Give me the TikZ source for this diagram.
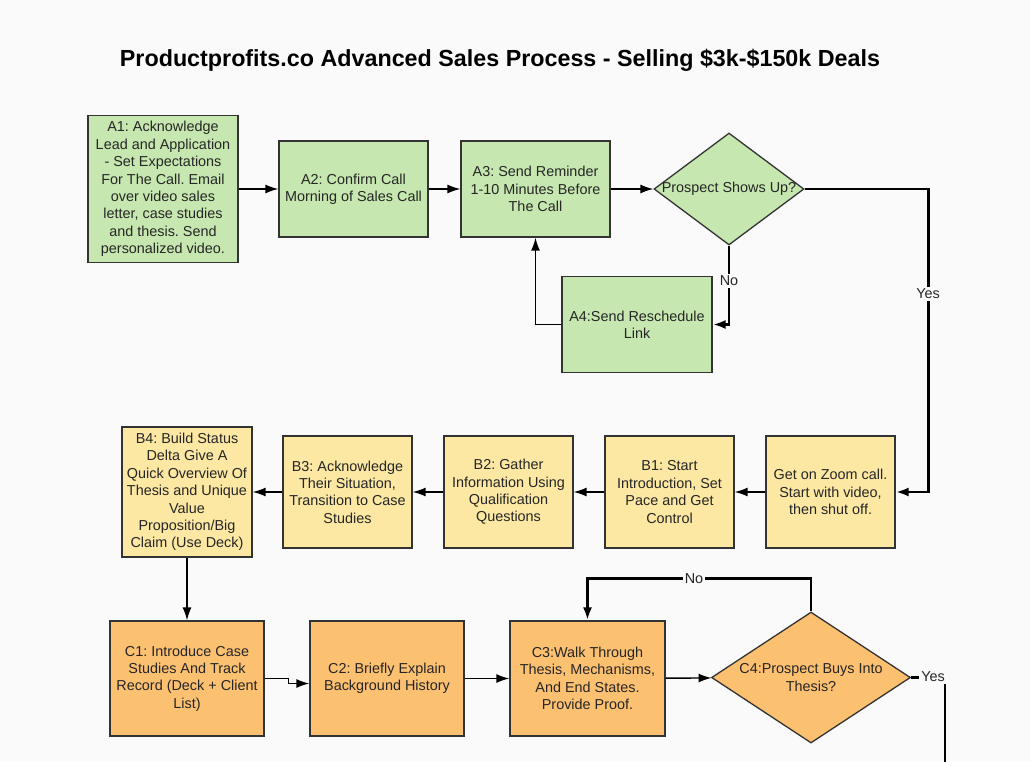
\documentclass[tikz,border=0pt]{standalone}
\usepackage{fontspec}
\setmainfont{Liberation Sans}
\usepackage{xcolor}
\usetikzlibrary{
    shapes.geometric,
    arrows.meta,
    positioning
}
\frenchspacing
\definecolor{pagebg}{HTML}{FAFAFA}
\definecolor{ink}{HTML}{333333}
\definecolor{gfill}{HTML}{C6E7AF}
\definecolor{yfill}{HTML}{FCE7A3}
\definecolor{ofill}{HTML}{FCC071}
\newcommand{\boxfont}{\fontsize{14.4}{17.4}\selectfont}
\tikzset{base/.style={draw=ink, line width=1.3pt, inner sep=0pt, align=center, text=black!85, font=\boxfont}}
\tikzset{gbox/.style={base, rectangle, fill=gfill}}
\tikzset{ybox/.style={base, rectangle, fill=yfill}}
\tikzset{obox/.style={base, rectangle, fill=ofill}}
\tikzset{gdec/.style={base, diamond, fill=gfill}}
\tikzset{odec/.style={base, diamond, fill=ofill}}
\tikzset{dtext/.style={align=center, text=black!85, font=\boxfont}}
\tikzset{conn/.style={draw=black, line width=1.4pt, -{Latex[length=13pt,width=9pt]}}}
\tikzset{bconn/.style={conn, line width=2.8pt}}
\tikzset{lbl/.style={fill=pagebg, inner sep=2pt, text=black!85, font=\boxfont}}

\begin{document}
\begin{tikzpicture}[x=1pt, y=-1pt]
                        \fill[pagebg] (0, 0) rectangle (1030, 761);
                        \useasboundingbox (0, 0) rectangle (1030, 761);

                        \node[font=\bfseries\fontsize{23.3}{27}\selectfont] (title) at (500, 60)
                            {Productprofits.co Advanced Sales Process - Selling \$3k-\$150k Deals};

                        \node[gbox, minimum width=150, minimum height=147] (a1) at (163, 189)
                            {A1: Acknowledge\\Lead and Application\\- Set Expectations\\For The Call. Email\\over video sales\\letter, case studies\\and thesis. Send\\personalized video.};
                        \node[gbox, minimum width=149, minimum height=96] (a2) at (353.5, 189)
                            {A2: Confirm Call\\Morning of Sales Call};
                        \node[gbox, minimum width=149, minimum height=96] (a3) at (535.5, 189)
                            {A3: Send Reminder\\1-10 Minutes Before\\The Call};
                        \node[gdec, minimum width=150, minimum height=112,
                            label={[dtext]center:Prospect Shows Up?}] (d1) at (729, 189) {};
                        \node[gbox, minimum width=150, minimum height=96] (a4) at (637, 324.5)
                            {A4:Send Reschedule\\Link};

                        \node[ybox, minimum width=129, minimum height=112] (zoom) at (830.5, 492)
                            {Get on Zoom call.\\Start with video,\\then shut off.};
                        \node[ybox, minimum width=129, minimum height=112] (b1) at (669.5, 492)
                            {B1: Start\\Introduction, Set\\Pace and Get\\Control};
                        \node[ybox, minimum width=129, minimum height=112] (b2) at (508.5, 492)
                            {B2: Gather\\Information Using\\Qualification\\Questions};
                        \node[ybox, minimum width=129, minimum height=112] (b3) at (347.5, 492)
                            {B3: Acknowledge\\Their Situation,\\Transition to Case\\Studies};
                        \node[ybox, minimum width=130, minimum height=130] (b4) at (187, 492)
                            {B4: Build Status\\Delta Give A\\Quick Overview Of\\Thesis and Unique\\Value\\Proposition/Big\\Claim (Use Deck)};

                        \node[obox, minimum width=154, minimum height=115] (c1) at (187, 678.5)
                            {C1: Introduce Case\\Studies And Track\\Record (Deck + Client\\List)};
                        \node[obox, minimum width=154, minimum height=115] (c2) at (387, 678.5)
                            {C2: Briefly Explain\\Background History};
                        \node[obox, minimum width=155, minimum height=115] (c3) at (587.5, 678.5)
                            {C3:Walk Through\\Thesis, Mechanisms,\\And End States.\\Provide Proof.};
                        \node[odec, minimum width=199, minimum height=131,
                            label={[dtext]center:C4:Prospect Buys Into\\Thesis?}] (c4) at (811, 677.5) {};

                        \coordinate (yesend) at (945, 765);

                        \draw[conn] (a1) -- (a2);
                        \draw[conn] (a2) -- (a3);
                        \draw[conn] (a3) -- (d1);
                        \draw[bconn] (d1.south) |- (a4.east);
                        \draw[conn] (a4.west) -| (a3.south);
                        \draw[bconn] (d1.east) -- ++(124, 0) |- (zoom.east);

                        \draw[conn] (zoom) -- (b1);
                        \draw[conn] (b1) -- (b2);
                        \draw[conn] (b2) -- (b3);
                        \draw[conn] (b3) -- (b4);
                        \draw[conn] (b4) -- (c1);

                        \draw[conn] (c1.east) -- ++(24, 0) -- ++(0, 5) -- (c2.west |- 0, 683.5);
                        \draw[conn] (c2) -- (c3);
                        \draw[conn] (c3) -- (c4);
                        \draw[bconn] (c4.north) -- ++(0, -33) -| (c3.north);
                        \draw[bconn, -] (c4.east) -| (yesend);

                        \node[lbl] (no1) at (729, 281) {No};
                        \node[lbl] (yes1) at (928, 294) {Yes};
                        \node[lbl] (no2) at (694, 579) {No};
                        \node[lbl] (yes2) at (933, 677) {Yes};
                    \end{tikzpicture}
\end{document}
